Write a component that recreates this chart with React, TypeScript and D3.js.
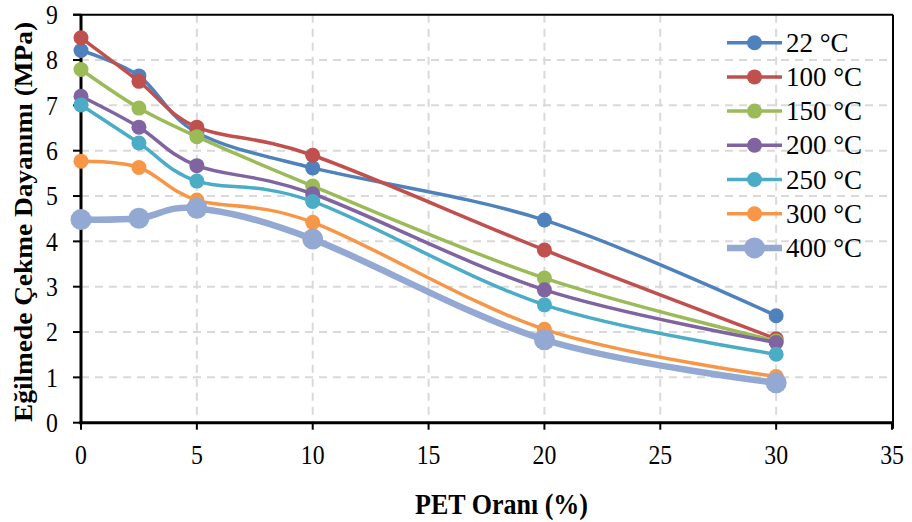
import React from "react";
import * as d3 from "d3";

const petRatios = [0, 2.5, 5, 10, 20, 30];
const seriesNames = ["22 °C", "100 °C", "150 °C", "200 °C", "250 °C", "300 °C", "400 °C"];
const s22 = [8.21, 7.65, 6.4, 5.62, 4.47, 2.36];
const s100 = [8.49, 7.53, 6.52, 5.9, 3.81, 1.85];
const s150 = [7.79, 6.94, 6.31, 5.22, 3.19, 1.8];
const s200 = [7.2, 6.52, 5.67, 5.05, 2.93, 1.77];
const s250 = [7.01, 6.17, 5.33, 4.88, 2.6, 1.51];
const s300 = [5.77, 5.63, 4.91, 4.42, 2.06, 1.02];
const s400 = [4.48, 4.51, 4.73, 4.05, 1.83, 0.88];
const seriesValues = [s22, s100, s150, s200, s250, s300, s400];
const seriesColors = ["#4F81BD", "#C0504D", "#9BBB59", "#8064A2", "#4BACC6", "#F79646", "#93A9D3"];
const xTicks = [0, 5, 10, 15, 20, 25, 30, 35];
const yTicks = [0, 1, 2, 3, 4, 5, 6, 7, 8, 9];
const xTitle = "PET Oranı (%)";
const yTitle = "Eğilmede Çekme Dayanımı (MPa)";

const W = 912;
const H = 522;
const left = 81;
const right = 892;
const top = 14.7;
const bottom = 422.7;
const FONT = "'Liberation Serif', 'Times New Roman', serif";

export default function App() {
  const x = d3.scaleLinear().domain([0, 35]).range([left, right]);
  const y = d3.scaleLinear().domain([0, 9]).range([bottom, top]);
  const line = d3
    .line<number>()
    .x((_, i) => x(petRatios[i]))
    .y((d) => y(d))
    .curve(d3.curveCardinal.tension(0));

  return (
    <svg
      width={W}
      height={H}
      style={{ position: "absolute", left: 0, top: 0, background: "#fff" }}
      fontFamily={FONT}
    >
      <rect x={0} y={0} width={W} height={H} fill="#fff" />
      {/* gridlines */}
      {yTicks
        .filter((t) => t > 0 && t < 9)
        .map((t) => (
          <line
            key={"gy" + t}
            x1={left}
            x2={right}
            y1={y(t)}
            y2={y(t)}
            stroke="#D9D9D9"
            strokeWidth={2}
            strokeDasharray="8,6"
          />
        ))}
      {xTicks
        .filter((t) => t > 0 && t < 35)
        .map((t) => (
          <line
            key={"gx" + t}
            x1={x(t)}
            x2={x(t)}
            y1={top}
            y2={bottom}
            stroke="#D9D9D9"
            strokeWidth={2}
            strokeDasharray="8,6"
          />
        ))}
      {/* frame top/right */}
      <line x1={left - 8} x2={right + 1} y1={top} y2={top} stroke="#000" strokeWidth={2} />
      <line x1={right + 1} x2={right + 1} y1={top} y2={bottom + 6} stroke="#000" strokeWidth={2} />
      {/* axes */}
      <line x1={left} x2={left} y1={top} y2={bottom + 1.5} stroke="#000" strokeWidth={3} />
      <line x1={left - 1.5} x2={right + 1} y1={bottom} y2={bottom} stroke="#000" strokeWidth={3} />
      {yTicks.map((t) => (
        <g key={"yt" + t}>
          <line x1={left - 8} x2={left} y1={y(t)} y2={y(t)} stroke="#000" strokeWidth={2} />
          <g transform={`translate(${58},${y(t)}) scale(0.88,1)`}>
            <text x={0} y={0} dy="0.34em" fontSize={27} textAnchor="end" fill="#000">
              {t}
            </text>
          </g>
        </g>
      ))}
      {xTicks.map((t) => (
        <g key={"xt" + t}>
          <line x1={x(t)} x2={x(t)} y1={bottom} y2={bottom + 7} stroke="#000" strokeWidth={2} />
          <g transform={`translate(${x(t)},${464}) scale(0.88,1)`}>
            <text x={0} y={0} fontSize={27} textAnchor="middle" fill="#000">
              {t}
            </text>
          </g>
        </g>
      ))}
      {/* titles */}
      <text
        x={501.5}
        y={514}
        fontSize={29}
        fontWeight="bold"
        textAnchor="middle"
        textLength={173}
        lengthAdjust="spacingAndGlyphs"
        fill="#000"
      >
        {xTitle}
      </text>
      <text
        transform={`translate(32,222) rotate(-90)`}
        fontSize={26}
        fontWeight="bold"
        textAnchor="middle"
        textLength={400}
        lengthAdjust="spacingAndGlyphs"
        fill="#000"
      >
        {yTitle}
      </text>
      {/* series */}
      {seriesValues.map((vals, si) => {
        const thick = si === 6;
        return (
          <g key={"s" + si}>
            <path
              d={line(vals) || ""}
              fill="none"
              stroke={seriesColors[si]}
              strokeWidth={thick ? 6.5 : 3.5}
              strokeLinejoin="round"
              strokeLinecap="round"
            />
            {vals.map((v, i) => (
              <circle
                key={i}
                cx={x(petRatios[i])}
                cy={y(v)}
                r={thick ? 10.5 : 7.5}
                fill={seriesColors[si]}
              />
            ))}
          </g>
        );
      })}
      {/* legend */}
      {seriesNames.map((name, si) => {
        const ly = 42.7 + 34.2 * si;
        const thick = si === 6;
        return (
          <g key={"l" + si}>
            <line
              x1={727}
              x2={782}
              y1={ly}
              y2={ly}
              stroke={seriesColors[si]}
              strokeWidth={thick ? 6.5 : 3.5}
            />
            <circle cx={754.5} cy={ly} r={thick ? 10.5 : 7.5} fill={seriesColors[si]} />
            <text x={786} y={ly} dy="0.34em" fontSize={27} fill="#000">
              {name}
            </text>
          </g>
        );
      })}
    </svg>
  );
}
